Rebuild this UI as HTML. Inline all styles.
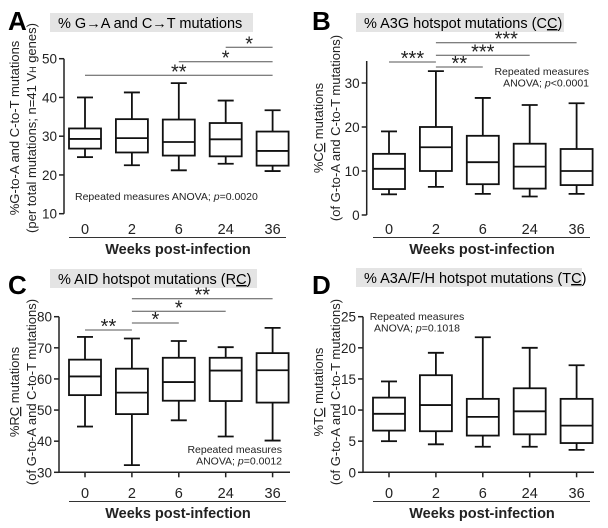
<!DOCTYPE html>
<html><head><meta charset="utf-8"><style>
body{margin:0;background:#fff}
svg{display:block;font-family:"Liberation Sans",Arial,sans-serif}
</style></head><body>
<svg id="fig" width="608" height="528" viewBox="0 0 608 528"></svg>
<script>
const categories=["0","2","6","24","36"];
const aMax=[40,41.3,43.7,39.2,36.7], aQ3=[32,34.4,34.3,33.4,31.2], aMed=[29.3,29.5,28.5,29.2,26.2], aQ1=[26.8,25.8,25,24.8,22.4], aMin=[24.6,22.5,21.2,22.9,21];
const bMax=[19,32.7,26.6,25,25.4], bQ3=[13.9,20,18,16.2,15], bMed=[10.5,15.4,12,11,10], bQ1=[5.9,10,7,6,6.8], bMin=[4.7,6.4,4.8,4.2,4.8];
const cMax=[73.5,73,72.2,70.2,76.4], cQ3=[66.2,63.3,66.8,66.8,68.3], cMed=[60.8,55.6,59,62.7,62.8], cQ1=[54.8,48.7,53,52.9,52.4], cMin=[44.7,32.3,46.7,41.5,40.2];
const dMax=[14.6,19.2,21.7,20,17.2], dQ3=[12,15.6,11.8,13.5,11.8], dMed=[9.4,10.8,8.9,9.8,7.5], dQ1=[6.7,6.6,5.9,6.1,4.7], dMin=[5,4.5,4.1,4.1,3.6];
const aTicks=[10,20,30,40,50], bTicks=[0,10,20,30], cTicks=[30,40,50,60,70,80], dTicks=[0,5,10,15,20,25];
const aSig=[[0,4,"**"],[2,4,"*"],[3,4,"*"]];
const bSig=[[0,1,"***"],[1,2,"**"],[1,3,"***"],[1,4,"***"]];
const cSig=[[0,1,"**"],[1,2,"*"],[1,3,"*"],[1,4,"**"]];
const NS="http://www.w3.org/2000/svg", svg=document.getElementById('fig');
function el(t,a,p,txt){const e=document.createElementNS(NS,t);for(const k in a)e.setAttribute(k,a[k]);if(txt!==undefined)e.textContent=txt;(p||svg).appendChild(e);return e;}
function panel(o){
  const g=el('g',{});
  
  
  const y=v=>o.y0+(v-o.v0)*(o.y1-o.y0)/(o.v1-o.v0);
  const x=i=>o.ox+85+i*46.9;
  const L=el('text',{x:o.ox+8,y:o.oy+30,'font-size':26,'font-weight':'bold'},g,o.id);
  
  const tb=el('rect',{x:o.tb[0],y:o.oy+o.tb[2],width:o.tb[1]-o.tb[0],height:19,fill:'#e4e4e4'},g);
  
  const tt=el('text',{x:o.tb[0]+8,y:o.oy+o.tb[2]+15,'font-size':14.5},g);
  tt.innerHTML=o.title;
  
  const yl=el('line',{x1:o.ax,x2:o.ax,y1:y(o.ticks[o.ticks.length-1])-(o.extra||0),y2:y(o.ticks[0]),stroke:'#222','stroke-width':1.5},g);
  
  o.ticks.forEach(t=>{
    el('line',{x1:o.ax-5,x2:o.ax,y1:y(t),y2:y(t),stroke:'#222','stroke-width':1.5},g);
    const tl=el('text',{x:o.ax-7,y:y(t)+5,'font-size':13.5,'text-anchor':'end',fill:'#222'},g,t);
    
  });
  if(o.xaxis){
    const xl=el('line',{x1:o.ax,x2:o.ox+290,y1:y(o.v0),y2:y(o.v0),stroke:'#222','stroke-width':1.5},g);
    
    categories.forEach((c,i)=>el('line',{x1:x(i),x2:x(i),y1:y(o.v0),y2:y(o.v0)+5,stroke:'#222','stroke-width':1.5},g));
  }
  const yt=el('text',{transform:`translate(${o.ox+19},${o.oy+128}) rotate(-90)`,'font-size':13,'text-anchor':'middle',fill:'#222'},g);
  yt.innerHTML=`<tspan x="0" dy="0">${o.yt1}</tspan><tspan x="0" dy="17">${o.yt2}</tspan>`;
  
  categories.forEach((c,i)=>{
    const cx=x(i), b=el('g',{},g);
    
    const s={stroke:'#111','stroke-width':1.8,fill:'none'};
    el('line',Object.assign({x1:cx,x2:cx,y1:y(o.max[i]),y2:y(o.q3[i])},s),b);
    el('line',Object.assign({x1:cx,x2:cx,y1:y(o.q1[i]),y2:y(o.min[i])},s),b);
    el('line',Object.assign({x1:cx-8,x2:cx+8,y1:y(o.max[i]),y2:y(o.max[i])},s),b);
    el('line',Object.assign({x1:cx-8,x2:cx+8,y1:y(o.min[i]),y2:y(o.min[i])},s),b);
    el('rect',Object.assign({x:cx-16,y:y(o.q3[i]),width:32,height:y(o.q1[i])-y(o.q3[i])},s),b);
    el('line',Object.assign({x1:cx-16,x2:cx+16,y1:y(o.med[i]),y2:y(o.med[i])},s),b);
    const xl=el('text',{x:cx,y:o.oy+234,'font-size':14.5,'text-anchor':'middle',fill:'#222'},g,c);
    
  });
  el('line',{x1:o.ox+69,x2:o.ox+286,y1:o.oy+237.5,y2:o.oy+237.5,stroke:'#333','stroke-width':1},g);
  const xt=el('text',{x:o.ox+178,y:o.oy+254,'font-size':14.5,'font-weight':'bold','text-anchor':'middle',fill:'#222'},g,'Weeks post-infection');
  
  (o.sig||[]).forEach((s,k)=>{
    const yy=o.sigY[k];
    const sl=el('line',{x1:x(s[0]),x2:x(s[1]),y1:yy,y2:yy,stroke:'#555','stroke-width':1},g);
    
    const st=el('text',{x:(x(s[0])+x(s[1]))/2,y:yy+3,'font-size':20,'text-anchor':'middle',fill:'#222'},g,s[2]);
    
  });
  const an=el('text',{x:o.an[0],y:o.an[1],'font-size':10.5,'text-anchor':o.an[2],fill:'#222'},g);
  an.innerHTML=o.anTxt;
  
}
panel({id:'A',ox:0,oy:0,ax:64,y0:213.7,y1:58.7,v0:10,v1:50,ticks:aTicks,max:aMax,q3:aQ3,med:aMed,q1:aQ1,min:aMin,
 tb:[50,253,13],title:'% G&#x2192;A and C&#x2192;T mutations',yt1:'%G-to-A and C-to-T mutations',yt2:'(per total mutations; n=41 V<tspan font-size="9">H</tspan> genes)',
 sig:aSig,sigY:[75.3,61.7,47.3],an:[75,200,'start'],anTxt:'Repeated measures ANOVA; <tspan font-style="italic">p</tspan>=0.0020'});
panel({id:'B',ox:304,oy:0,ax:366.7,y0:215,y1:83,v0:0,v1:30,ticks:bTicks,extra:22,max:bMax,q3:bQ3,med:bMed,q1:bQ1,min:bMin,
 tb:[356,564,13],title:'% A3G hotspot mutations (C<tspan text-decoration="underline">C</tspan>)',yt1:'%C<tspan text-decoration="underline">C</tspan> mutations',yt2:'(of G-to-A and C-to-T mutations)',
 sig:bSig,sigY:[62,67,55.3,42.7],an:[589,75,'end'],anTxt:'<tspan x="589" dy="0">Repeated measures</tspan><tspan x="589" dy="11.5">ANOVA; <tspan font-style="italic">p</tspan>&lt;0.0001</tspan>'});
panel({id:'C',ox:0,oy:264,ax:59,y0:472.3,y1:316.7,v0:30,v1:80,ticks:cTicks,xaxis:true,max:cMax,q3:cQ3,med:cMed,q1:cQ1,min:cMin,
 tb:[50,257,5],title:'% AID hotspot mutations (R<tspan text-decoration="underline">C</tspan>)',yt1:'%R<tspan text-decoration="underline">C</tspan> mutations',yt2:'(of G-to-A and C-to-T mutations)',
 sig:cSig,sigY:[330,323,311.3,298.7],an:[282,453,'end'],anTxt:'<tspan x="282" dy="0">Repeated measures</tspan><tspan x="282" dy="11.5">ANOVA; <tspan font-style="italic">p</tspan>=0.0012</tspan>'});
panel({id:'D',ox:304,oy:264,ax:363,y0:472.3,y1:316.7,v0:0,v1:25,ticks:dTicks,xaxis:true,max:dMax,q3:dQ3,med:dMed,q1:dQ1,min:dMin,
 tb:[356,582,4],title:'% A3A/F/H hotspot mutations (T<tspan text-decoration="underline">C</tspan>)',yt1:'%T<tspan text-decoration="underline">C</tspan> mutations',yt2:'(of G-to-A and C-to-T mutations)',
 an:[417,320,'middle'],anTxt:'<tspan x="417" dy="0">Repeated measures</tspan><tspan x="417" dy="11.5">ANOVA; <tspan font-style="italic">p</tspan>=0.1018</tspan>'});
</script>
</body></html>
